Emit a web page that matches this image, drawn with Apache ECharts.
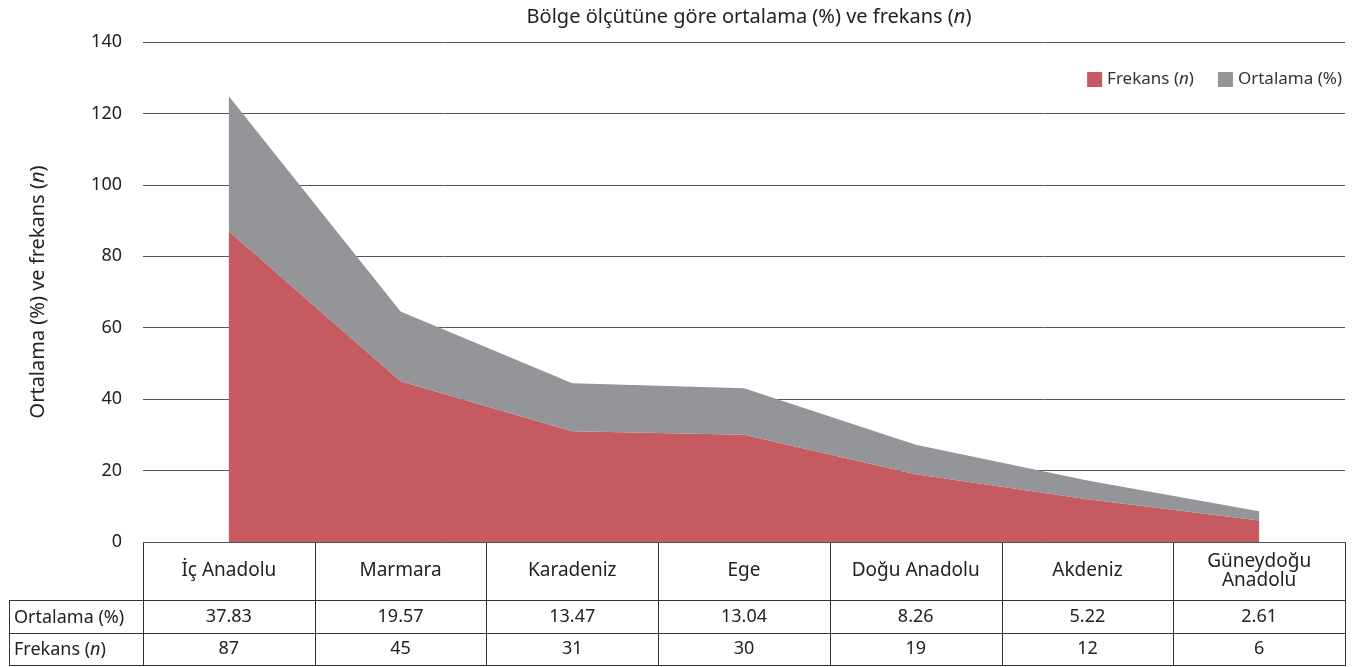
<!DOCTYPE html>
<html>
<head>
<meta charset="utf-8">
<script src="https://cdn.jsdelivr.net/npm/echarts@6/dist/echarts.min.js"></script>
<style>
  html, body { margin: 0; padding: 0; background: #fff; }
  #chart { width: 1357px; height: 667px; }
</style>
</head>
<body>
<div id="chart"></div>
<script>
// Regions and their values
const regions = ['İç Anadolu', 'Marmara', 'Karadeniz', 'Ege', 'Doğu Anadolu', 'Akdeniz', 'Güneydoğu\nAnadolu'];
const ortalama = [37.83, 19.57, 13.47, 13.04, 8.26, 5.22, 2.61];
const frekans = [87, 45, 31, 30, 19, 12, 6];
const yTicks = { min: 0, max: 140, interval: 20 };

const FONT = '"Noto Sans", "Open Sans", sans-serif';
const RED = '#c55b61';
const GRAY = '#939598';
const LINE = '#333';
const TEXT = '#222';

// Plot rectangle
const G = { left: 143, right: 12, top: 42, bottom: 125 };
const W = 1357, H = 667;
const plotRight = W - G.right;
const plotBottom = H - G.bottom;
const colW = (plotRight - G.left) / regions.length;

// Table rows below the plot
const rowTop1 = 600, rowTop2 = 633, tableBottom = 665, tableLeft = 9;

const italic = { fontStyle: 'italic', fontFamily: FONT };

function tableGraphics() {
  const els = [];
  const ls = { stroke: LINE, lineWidth: 1 };
  const hline = (x1, x2, y) => els.push({ type: 'line', shape: { x1, y1: y + 0.5, x2, y2: y + 0.5 }, style: ls, silent: true });
  const vline = (x, y1, y2) => els.push({ type: 'line', shape: { x1: x + 0.5, y1, x2: x + 0.5, y2 }, style: ls, silent: true });
  hline(G.left, plotRight, plotBottom);
  hline(tableLeft, plotRight, rowTop1);
  hline(tableLeft, plotRight, rowTop2);
  hline(tableLeft, plotRight, tableBottom);
  vline(tableLeft, rowTop1, tableBottom + 1);
  for (let i = 0; i <= regions.length; i++) {
    vline(Math.round(G.left + i * colW), plotBottom, tableBottom + 1);
  }
  // Row headers in the left column
  const rowLabel = (text, y) => els.push({
    type: 'text', x: 14, y: y, silent: true,
    style: { text, fontSize: 18, fontFamily: FONT, fill: TEXT, align: 'left', verticalAlign: 'middle',
      rich: { i: Object.assign({ fontSize: 18, fill: TEXT }, italic) } }
  });
  rowLabel('Ortalama (%)', (rowTop1 + rowTop2) / 2 + 1);
  rowLabel('Frekans ({i|n})', (rowTop2 + tableBottom) / 2 + 1);
  return els;
}

const hiddenAxisParts = { axisLine: { show: false }, axisTick: { show: false }, splitLine: { show: false } };

const chart = echarts.init(document.getElementById('chart'), null, { renderer: 'canvas' });
chart.setOption({
  animation: false,
  backgroundColor: '#fff',
  textStyle: { fontFamily: FONT },
  title: {
    text: 'Bölge ölçütüne göre ortalama (%) ve frekans ({i|n})',
    left: G.left + (plotRight - G.left) / 2, textAlign: 'center', top: 2,
    textStyle: { fontSize: 20, fontWeight: 'normal', color: TEXT, fontFamily: FONT,
      rich: { i: Object.assign({ fontSize: 20, color: TEXT }, italic) } }
  },
  legend: {
    right: 10, top: 66,
    itemWidth: 15, itemHeight: 15, itemGap: 24,
    icon: 'rect',
    data: ['Frekans (n)', 'Ortalama (%)'],
    formatter: name => name.replace('(n)', '({i|n})'),
    textStyle: { fontSize: 17, color: '#333', fontFamily: FONT,
      rich: { i: Object.assign({ fontSize: 17, color: '#333' }, italic) } }
  },
  grid: { left: G.left, right: G.right, top: G.top, bottom: G.bottom, containLabel: false },
  xAxis: [
    Object.assign({
      type: 'category', data: regions, boundaryGap: true,
      axisLabel: { margin: (rowTop1 - plotBottom) / 2, verticalAlign: 'middle', interval: 0,
        fontSize: 19, color: TEXT, fontFamily: FONT, lineHeight: 19 }
    }, hiddenAxisParts),
    Object.assign({
      type: 'category', data: ortalama.map(v => v.toFixed(2)), boundaryGap: true, position: 'bottom',
      axisLabel: { margin: (rowTop1 + rowTop2) / 2 - plotBottom, verticalAlign: 'middle', interval: 0,
        fontSize: 18, color: TEXT, fontFamily: FONT }
    }, hiddenAxisParts),
    Object.assign({
      type: 'category', data: frekans.map(String), boundaryGap: true, position: 'bottom',
      axisLabel: { margin: (rowTop2 + tableBottom) / 2 - plotBottom, verticalAlign: 'middle', interval: 0,
        fontSize: 18, color: TEXT, fontFamily: FONT }
    }, hiddenAxisParts)
  ],
  yAxis: {
    type: 'value', min: yTicks.min, max: yTicks.max, interval: yTicks.interval,
    name: 'Ortalama (%) ve frekans ({i|n})',
    nameLocation: 'middle', nameGap: 95, nameRotate: 90,
    nameTextStyle: { fontSize: 20, color: TEXT, fontFamily: FONT,
      rich: { i: Object.assign({ fontSize: 20, color: TEXT }, italic) } },
    axisLine: { show: false }, axisTick: { show: false },
    axisLabel: { margin: 21, fontSize: 18, color: TEXT, fontFamily: FONT },
    splitLine: { lineStyle: { color: '#555', width: 1 } }
  },
  series: [
    {
      name: 'Frekans (n)', type: 'line', stack: 'total', data: frekans,
      symbol: 'none', lineStyle: { width: 0 }, itemStyle: { color: RED },
      areaStyle: { color: RED, opacity: 1 }
    },
    {
      name: 'Ortalama (%)', type: 'line', stack: 'total', data: ortalama,
      symbol: 'none', lineStyle: { width: 0 }, itemStyle: { color: GRAY },
      areaStyle: { color: GRAY, opacity: 1 }
    }
  ],
  graphic: tableGraphics()
});
</script>
</body>
</html>
